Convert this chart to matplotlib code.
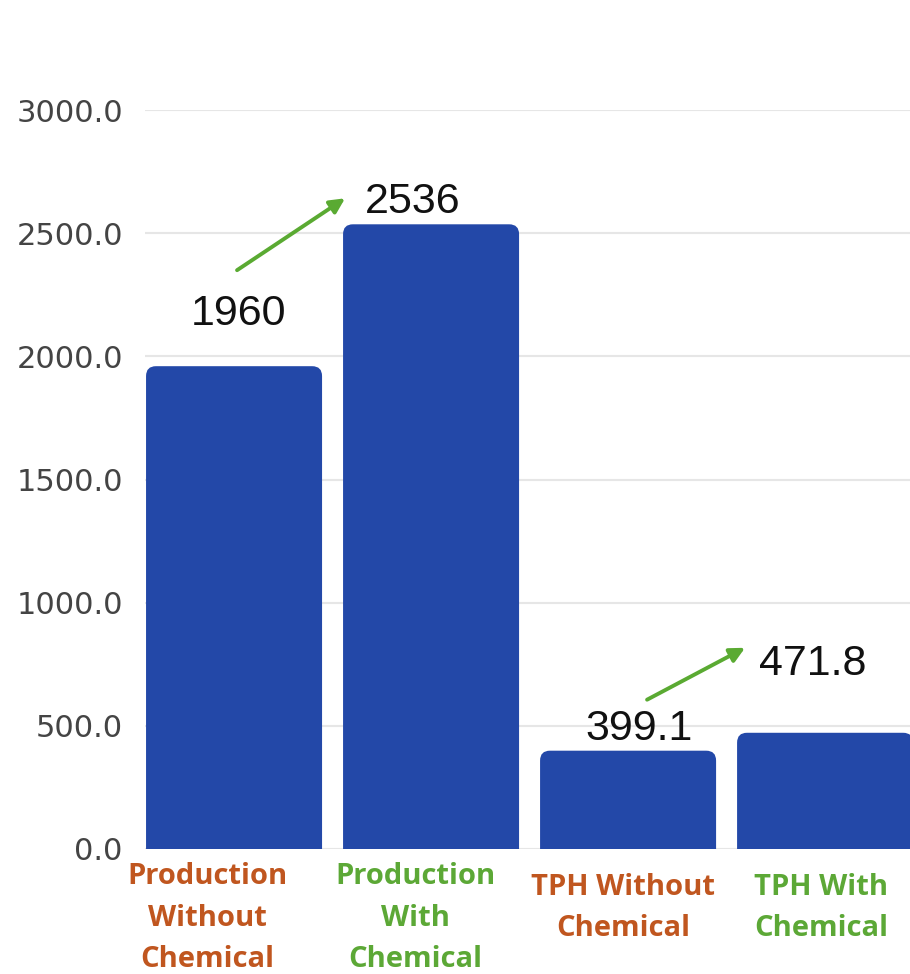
import matplotlib
matplotlib.use("Agg")
import matplotlib.pyplot as plt
from matplotlib.patches import FancyBboxPatch
from matplotlib.transforms import offset_copy
from matplotlib.font_manager import FontProperties

categories = ["Production\nWithout\nChemical", "Production\nWith\nChemical",
              "TPH Without\nChemical", "TPH With\nChemical"]
values = [1960, 2536, 399.1, 471.8]
value_labels = ["1960", "2536", "399.1", "471.8"]
yticks = [0, 500, 1000, 1500, 2000, 2500, 3000]
ytick_labels = ["0.0", "500.0", "1000.0", "1500.0", "2000.0", "2500.0", "3000.0"]
cat_colors = ["#C0561F", "#5CA836", "#C0561F", "#5CA836"]
arrow_pairs = [(0, 1), (2, 3)]

bar_color = "#2348A8"
arrow_color = "#5AAA32"

W, H = 910, 974
fig = plt.figure(figsize=(W / 100, H / 100), dpi=100)
ax = fig.add_axes([145 / W, (H - 849) / H, 765 / W, 739 / H])

x = list(range(len(values)))
bw = 176 / 197
ax.set_xlim(-0.452, 3.431)
ax.set_ylim(0, 3000)

# rounded-top bars (bottom extends below 0 and is clipped by the axes)
rx = 0.05
ry = 40.0
for xi, v in zip(x, values):
    p = FancyBboxPatch((xi - bw / 2, -200), bw, v + 200,
                       boxstyle=f"round,pad=0,rounding_size={rx}",
                       mutation_aspect=ry / rx,
                       facecolor=bar_color, edgecolor="none", zorder=3)
    ax.add_patch(p)

ax.set_yticks(yticks)
ax.set_yticklabels(ytick_labels, fontsize=22, color="#444444", family="DejaVu Sans")
ax.tick_params(axis="y", length=0, pad=16)
ax.grid(axis="y", color="#E6E6E6", linewidth=1.5, zorder=0)
ax.set_axisbelow(True)
for s in ax.spines.values():
    s.set_visible(False)
ax.set_xticks([])

# value labels: pixel offsets of baseline from bar top
label_offsets = [(4, 41), (-18, 11), (11, 11), (-12, 58)]
for xi, v, lab, (dx, dy) in zip(x, values, value_labels, label_offsets):
    ax.annotate(lab, (xi, v), xytext=(dx, dy), textcoords="offset pixels",
                ha="center", va="baseline", fontsize=31, family="Liberation Sans",
                color="#111111", annotation_clip=False, zorder=5)

# green arrows (pixel offsets from bar tops)
arrow_specs = [((3, 96), (-86, 26)), ((19, 51), (-80, 85))]
for (i, j), (s_off, e_off) in zip(arrow_pairs, arrow_specs):
    ts = offset_copy(ax.transData, fig=fig, x=s_off[0], y=s_off[1], units="dots")
    te = offset_copy(ax.transData, fig=fig, x=e_off[0], y=e_off[1], units="dots")
    ax.annotate("", xy=(x[j], values[j]), xycoords=te,
                xytext=(x[i], values[i]), textcoords=ts,
                arrowprops=dict(arrowstyle="-|>", color=arrow_color, lw=2.8,
                                mutation_scale=22, shrinkA=0, shrinkB=0),
                annotation_clip=False, zorder=6)

fp = FontProperties(family=["Open Sans", "DejaVu Sans"], weight="bold")

# size so that "Production" is ~160 px wide
renderer = fig.canvas.get_renderer()
probe = fig.text(0, 0, "Production", fontproperties=fp, fontsize=20)
wpx = probe.get_window_extent(renderer).width
probe.remove()
cat_size = 20 * 160 / wpx

first_baseline = {3: 884, 2: 895}
line_step = 41.5
cat_dx = [-27, -16, -5, -4]
for xi, lab, c, dx in zip(x, categories, cat_colors, cat_dx):
    lines = lab.split("\n")
    b0 = first_baseline[len(lines)]
    for k, line in enumerate(lines):
        yb = b0 + k * line_step
        ax.annotate(line, (xi, 0), xycoords=("data", "axes fraction"),
                    xytext=(dx, -(yb - 849)), textcoords="offset pixels",
                    ha="center", va="baseline", fontproperties=fp, fontsize=cat_size,
                    color=c, annotation_clip=False)

fig.savefig("out.png", dpi=100)
